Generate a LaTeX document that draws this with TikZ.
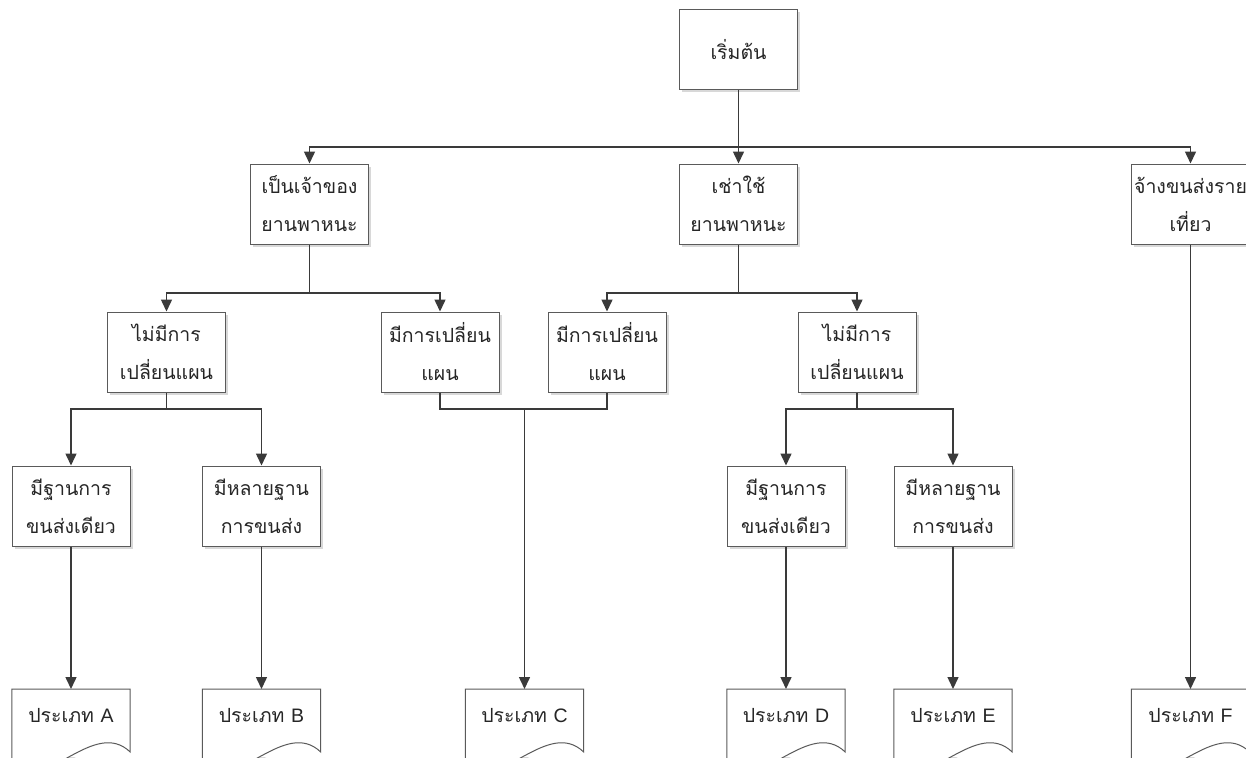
\documentclass[tikz,border=0pt]{standalone}
\usepackage{fontspec}
\newfontfamily\thai[Script=Thai]{Loma}
\newfontfamily\lat{Liberation Sans}
\usetikzlibrary{arrows.meta,shadows,calc,backgrounds}
\definecolor{linec}{HTML}{3A3A3A}
\definecolor{boxc}{HTML}{5A5A5A}
\definecolor{shadc}{HTML}{D8D8D8}
\newcommand\docshape[1]{%
  \begin{pgfonlayer}{background}
    \fill[shadc] ($(#1.north west)+(2.5,2.5)$) -- ($(#1.north east)+(2.5,2.5)$) -- ($(#1.north east)+(2.5,65.5)$)
      .. controls ($(#1.north east)+(-33,31.5)$) and ($(#1.north west)+(38,103.5)$) .. ($(#1.north west)+(2.5,83.5)$) -- cycle;
    \fill[white] (#1.north west) -- (#1.north east) -- ($(#1.north east)+(0,63)$)
      .. controls ($(#1.north east)+(-35.4,29)$) and ($(#1.north west)+(35.4,101)$) .. ($(#1.north west)+(0,81)$) -- cycle;
  \end{pgfonlayer}
  \draw[boxc, line width=1pt] (#1.north west) -- (#1.north east) -- ($(#1.north east)+(0,63)$)
      .. controls ($(#1.north east)+(-35.4,29)$) and ($(#1.north west)+(35.4,101)$) .. ($(#1.north west)+(0,81)$) -- cycle;
}
\begin{document}
\begin{tikzpicture}[x=1pt,y=-1pt,
  box/.style={draw=boxc, line width=1pt, fill=white, minimum width=118pt, minimum height=80pt,
    inner sep=0pt, align=center, text=black!85, font=\thai\fontsize{19.5}{38}\selectfont,
    drop shadow={shadow xshift=2.5pt, shadow yshift=-2.5pt, fill=shadc, opacity=1}},
  doc/.style={minimum width=118pt, minimum height=52pt, inner sep=0pt, anchor=north,
    text=black!85, font=\thai\fontsize{19.5}{22}\selectfont},
  conn/.style={draw=linec, line width=1.5pt},
  arr/.style={conn, -{Triangle[length=12pt,width=11pt]}}]
\useasboundingbox[fill=white] (0,0) rectangle (1246,757);

\node[box] (start) at (738.5,50) {เริ่มต้น};
\node[box] (own) at (309.5,204) {เป็นเจ้าของ\\ยานพาหนะ};
\node[box] (rent) at (738.5,204) {เช่าใช้\\ยานพาหนะ};
\node[box] (hire) at (1190.5,204) {จ้างขนส่งราย\\เที่ยว};
\node[box] (no1) at (166.5,352) {ไม่มีการ\\เปลี่ยนแผน};
\node[box] (ch1) at (440,352) {มีการเปลี่ยน\\แผน};
\node[box] (ch2) at (607,352) {มีการเปลี่ยน\\แผน};
\node[box] (no2) at (857,352) {ไม่มีการ\\เปลี่ยนแผน};
\node[box] (s1) at (71,506) {มีฐานการ\\ขนส่งเดียว};
\node[box] (m1) at (261.5,506) {มีหลายฐาน\\การขนส่ง};
\node[box] (s2) at (786,506) {มีฐานการ\\ขนส่งเดียว};
\node[box] (m2) at (953,506) {มีหลายฐาน\\การขนส่ง};

\node[doc] (tA) at (71,689) {ประเภท {\lat A}};
\node[doc] (tB) at (261.5,689) {ประเภท {\lat B}};
\node[doc] (tC) at (524.5,689) {ประเภท {\lat C}};
\node[doc] (tD) at (786,689) {ประเภท {\lat D}};
\node[doc] (tE) at (953,689) {ประเภท {\lat E}};
\node[doc] (tF) at (1190.5,689) {ประเภท {\lat F}};
\docshape{tA}\docshape{tB}\docshape{tC}\docshape{tD}\docshape{tE}\docshape{tF}

\coordinate (j1) at (738.5,147);
\coordinate (j2) at (309.5,293);
\coordinate (j3) at (738.5,293);
\coordinate (j4) at (166.5,409);
\coordinate (j5) at (524.5,409);
\coordinate (j6) at (857,409);

\draw[conn] (start.south) -- (j1);
\draw[arr] (j1) -| (own.north);
\draw[arr] (j1) -- (rent.north);
\draw[arr] (j1) -| (hire.north);

\draw[conn] (own.south) -- (j2);
\draw[arr] (j2) -| (no1.north);
\draw[arr] (j2) -| (ch1.north);

\draw[conn] (rent.south) -- (j3);
\draw[arr] (j3) -| (ch2.north);
\draw[arr] (j3) -| (no2.north);

\draw[conn] (no1.south) -- (j4);
\draw[arr] (j4) -| (s1.north);
\draw[arr] (j4) -| (m1.north);

\draw[conn] (no2.south) -- (j6);
\draw[arr] (j6) -| (s2.north);
\draw[arr] (j6) -| (m2.north);

\draw[conn] (ch1.south) |- (j5) -| (ch2.south);
\draw[arr] (j5) -- (tC.north);

\draw[arr] (s1.south) -- (tA.north);
\draw[arr] (m1.south) -- (tB.north);
\draw[arr] (s2.south) -- (tD.north);
\draw[arr] (m2.south) -- (tE.north);
\draw[arr] (hire.south) -- (tF.north);
\end{tikzpicture}
\end{document}
